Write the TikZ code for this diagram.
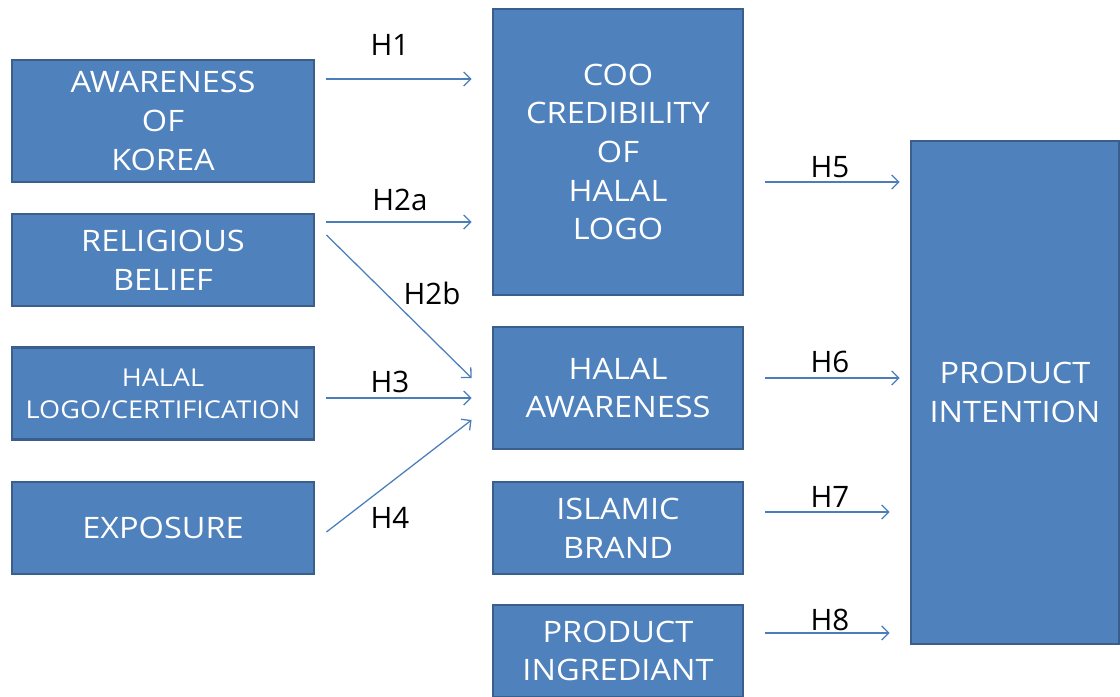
\documentclass[tikz,border=0pt]{standalone}
\usepackage{fontspec}
\setmainfont{Open Sans}
\newfontfamily\boxfont{Open Sans}[FakeStretch=1.1]
\usetikzlibrary{arrows.meta, calc}

\definecolor{boxfill}{HTML}{4F81BD}
\definecolor{boxline}{HTML}{3A5F8C}
\definecolor{arrowblue}{HTML}{4A7EBB}

\begin{document}
\begin{tikzpicture}[x=0.025cm,y=-0.025cm,
  hyp/.style={-{Straight Barb[length=5pt,width=10pt]},draw=arrowblue,line width=0.9pt},
  box/.style={rectangle,draw=boxline,fill=boxfill,line width=2pt,text=white,align=center,
    inner sep=0pt,font=\boxfont\fontsize{21}{27.5}\selectfont},
  small box/.style={box,font=\boxfont\fontsize{17.5}{23}\selectfont},
  label/.style={font=\fontsize{21}{25}\selectfont,text=black}]
  \useasboundingbox (0,0) rectangle (1120,697);
  % left column
  \node[box,minimum width=7.55cm,minimum height=3.05cm] (aok) at (163,121) {AWARENESS\\OF\\KOREA};
  \node[box,minimum width=7.55cm,minimum height=2.3cm] (rb) at (163,260) {RELIGIOUS\\BELIEF};
  \node[small box,minimum width=7.55cm,minimum height=2.28cm] (hlc) at (163,393.5) {HALAL\\LOGO/CERTIFICATION};
  \node[box,minimum width=7.55cm,minimum height=2.3cm] (exp) at (163,528) {EXPOSURE};
  % middle column
  \node[box,minimum width=6.25cm,minimum height=7.15cm] (coo) at (618,152) {COO\\CREDIBILITY\\OF\\HALAL\\LOGO};
  \node[box,minimum width=6.25cm,minimum height=3.05cm] (ha) at (618,388) {HALAL\\AWARENESS};
  \node[box,minimum width=6.25cm,minimum height=2.3cm] (ib) at (618,528) {ISLAMIC\\BRAND};
  \node[box,minimum width=6.25cm,minimum height=2.3cm] (ping) at (618,651) {PRODUCT\\INGREDIANT};
  % right column
  \node[box,minimum width=5.2cm,minimum height=12.575cm] (pint) at (1015,392.5) {PRODUCT\\INTENTION};

  \node[label] (h1) at (390,45) {H1};
  \node[label] (h2a) at (400,200) {H2a};
  \node[label] (h2b) at (432,293) {H2b};
  \node[label] (h3) at (390,382) {H3};
  \node[label] (h4) at (390,518) {H4};
  \node[label] (h5) at (830,167) {H5};
  \node[label] (h6) at (830,362) {H6};
  \node[label] (h7) at (830,497) {H7};
  \node[label] (h8) at (830,620) {H8};

  \draw[hyp] ($(aok.east |- 0,79)+(11,0)$) -- ($(coo.west |- 0,79)+(-20,0)$);
  \draw[hyp] ($(rb.east |- 0,222)+(11,0)$) -- ($(coo.west |- 0,222)+(-20,0)$);
  \draw[hyp] ($(rb.east |- 0,235)+(11,0)$) -- ($(ha.west |- 0,378)+(-20,0)$);
  \draw[hyp] ($(hlc.east |- 0,398)+(11,0)$) -- ($(ha.west |- 0,398)+(-20,0)$);
  \draw[hyp] ($(exp.east |- 0,532)+(11,0)$) -- ($(ha.west |- 0,420)+(-20,0)$);
  \draw[hyp] ($(coo.east |- 0,182)+(21,0)$) -- ($(pint.west |- 0,182)+(-10,0)$);
  \draw[hyp] ($(ha.east |- 0,378)+(21,0)$) -- ($(pint.west |- 0,378)+(-10,0)$);
  \draw[hyp] ($(ib.east |- 0,512)+(21,0)$) -- ($(pint.west |- 0,512)+(-20,0)$);
  \draw[hyp] ($(ping.east |- 0,633)+(21,0)$) -- ($(pint.west |- 0,633)+(-20,0)$);
\end{tikzpicture}
\end{document}
